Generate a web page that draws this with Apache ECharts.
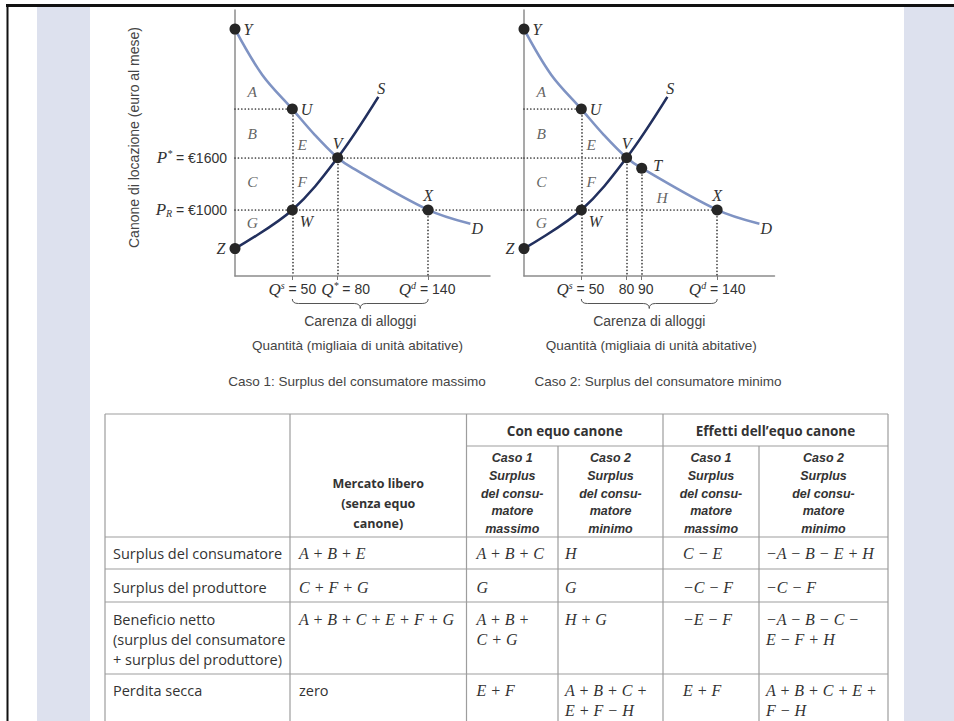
<!DOCTYPE html>
<html><head><meta charset="utf-8">
<script src="https://cdn.jsdelivr.net/npm/echarts@6/dist/echarts.min.js"></script>
<style>html,body{margin:0;padding:0;background:#fff}#c{width:954px;height:721px}</style>
</head><body><div id="c"></div>
<script>
// ---------------- data ----------------
const demandQ = [12, 30, 50, 65, 80, 90, 140, 168];
const demandP = [3080, 2556, 2160, 1861, 1600, 1480, 1000, 840];
const supplyQ = [12, 50, 80, 107];
const supplyP = [555, 1000, 1600, 2300];
const pointNames1 = ['Y', 'U', 'V', 'W', 'X', 'Z'];
const pointQ1 = [12, 50, 80, 50, 140, 12];
const pointP1 = [3080, 2160, 1600, 1000, 1000, 555];
const pointNames2 = ['Y', 'U', 'V', 'T', 'W', 'X', 'Z'];
const pointQ2 = [12, 50, 80, 90, 50, 140, 12];
const pointP2 = [3080, 2160, 1600, 1480, 1000, 1000, 555];
const areaNames1 = ['A', 'B', 'C', 'G', 'E', 'F'];
const areaQ1 = [23.5, 23.5, 23.5, 23.5, 56.6, 56.6];
const areaP1 = [2360, 1880, 1325, 855, 1758, 1325];
const areaNames2 = ['A', 'B', 'C', 'G', 'E', 'F', 'H'];
const areaQ2 = [23.5, 23.5, 23.5, 23.5, 56.6, 56.6, 103.5];
const areaP2 = [2360, 1880, 1325, 855, 1758, 1325, 1145];
const qTicks1 = [50, 80, 140];
const qTickSup1 = ['s', '*', 'd'];
const qTicks2 = [50, 80, 90, 140];
const qTickSup2 = ['s', '', '', 'd'];
const pTicks = [1000, 1600];
const pTickMark = ['R', '*'];
const priceU = 2160, priceStar = 1600, priceR = 1000, priceT = 1480;
const qS = 50, qStar = 80, qT = 90, qD = 140;
const shortageLabel = 'Carenza di alloggi';
const xName = 'Quantità (migliaia di unità abitative)';
const yName = 'Canone di locazione (euro al mese)';
const captions = ['Caso 1: Surplus del consumatore massimo', 'Caso 2: Surplus del consumatore minimo'];
// table
const groupHeaders = ['Con equo canone', 'Effetti dell’equo canone'];
const freeHeader = 'Mercato libero\n(senza equo\ncanone)';
const subHeaders = ['Caso 1\nSurplus\ndel consu-\nmatore\nmassimo', 'Caso 2\nSurplus\ndel consu-\nmatore\nminimo',
  'Caso 1\nSurplus\ndel consu-\nmatore\nmassimo', 'Caso 2\nSurplus\ndel consu-\nmatore\nminimo'];
const rowLabels = ['Surplus del consumatore', 'Surplus del produttore',
  'Beneficio netto\n(surplus del consumatore\n+ surplus del produttore)', 'Perdita secca'];
const cellRows = [
  ['A + B + E', 'A + B + C', 'H', 'C − E', '−A − B − E + H'],
  ['C + F + G', 'G', 'G', '−C − F', '−C − F'],
  ['A + B + C + E + F + G', 'A + B +\nC + G', 'H + G', '−E − F', '−A − B − C −\nE − F + H'],
  ['zero', 'E + F', 'A + B + C +\nE + F − H', 'E + F', 'A + B + C + E +\nF − H']
];

// ---------------- styles / layout ----------------
const Q_MIN = 12, P_MIN = 240, P_MAX = 3300;
const SERIF = '"Liberation Serif", "DejaVu Serif", serif';
const SANS = '"Liberation Sans", Arial, sans-serif';
const TSANS = '"Open Sans", "Noto Sans", sans-serif';
const INK = '#333';
const DOT = { color: '#3a3a3a', width: 1.7, type: [0.01, 3.4], cap: 'round' };

const richAxis = {
  i: { fontFamily: SERIF, fontStyle: 'italic', fontSize: 17, color: INK, lineHeight: 18 },
  sup: { fontFamily: SERIF, fontStyle: 'italic', fontSize: 10, color: INK, verticalAlign: 'top', lineHeight: 18 },
  sub: { fontFamily: SERIF, fontStyle: 'italic', fontSize: 10, color: INK, verticalAlign: 'bottom', lineHeight: 14 },
  t: { fontFamily: SANS, fontSize: 14, color: INK, lineHeight: 18 }
};
const richZ = {
  i: { fontFamily: SERIF, fontStyle: 'italic', fontSize: 17, fill: INK, lineHeight: 18 },
  sup: { fontFamily: SERIF, fontStyle: 'italic', fontSize: 10, fill: INK, verticalAlign: 'top', lineHeight: 18 },
  t: { fontFamily: SANS, fontSize: 14, fill: INK, lineHeight: 18 }
};
const tickNudge = [[0, 8, -1], [-1, 0, 4, 0]];

function qLabel(v, s) {
  if (!s) return '{t|' + v + '}';
  return '{i|Q}{sup|' + s + '}{t| = ' + v + '}';
}
function pFormatter(v) {
  const k = pTicks.indexOf(v);
  if (k < 0) return '';
  const m = pTickMark[k];
  return (m === '*' ? '{i|P}{sup|*}' : '{i|P}{sub|' + m + '}') + '{t| = €' + v + '}';
}

const ptLabel = {
  Y: { position: 'right', distance: 3 },
  U: { position: 'right', distance: 3 },
  V: { position: 'top', distance: 1 },
  W: { position: 'right', distance: 2, offset: [0, 12] },
  X: { position: 'top', distance: 1 },
  Z: { position: 'left', distance: 4 },
  T: { position: 'right', distance: 6, offset: [0, -3] }
};

const grids = [
  { left: 235, top: 10, width: 255, height: 266 },
  { left: 524, top: 10, width: 250.5, height: 266 }
];
const xMax = [181, 178];
const GUIDE_EXT = 204; // dotted price guides continue across the gap to chart 2

function xAxisFor(i, ticks) {
  return {
    type: 'value', gridIndex: i, min: Q_MIN, max: xMax[i],
    axisLine: { show: true, onZero: false, lineStyle: { color: '#8c8c8c', width: 1.5 } },
    axisTick: { show: true, customValues: ticks, length: 4, lineStyle: { color: '#777', width: 1 } },
    axisLabel: { show: false },
    splitLine: { show: false },
    name: xName, nameLocation: 'middle', nameGap: 62,
    nameTextStyle: { fontFamily: SANS, fontSize: 13.5, color: '#444', padding: i === 0 ? [0, 10, 0, 0] : [0, 0, 0, 4] }
  };
}
function yAxisFor(i) {
  const ax = {
    type: 'value', gridIndex: i, min: P_MIN, max: P_MAX,
    axisLine: { show: true, onZero: false, lineStyle: { color: '#8c8c8c', width: 1.5 } },
    axisTick: { show: false },
    splitLine: { show: false },
    axisLabel: { show: false }
  };
  if (i === 0) {
    ax.axisLabel = { show: true, customValues: pTicks, formatter: pFormatter, rich: richAxis, margin: 8 };
    ax.name = yName; ax.nameLocation = 'middle'; ax.nameGap = 94; ax.nameRotate = 90;
    ax.nameTextStyle = { fontFamily: SANS, fontSize: 14, color: '#444', padding: [0, 0, 0, 11] };
  }
  return ax;
}

function curve(i, qs, ps, color, name, off) {
  return {
    type: 'line', xAxisIndex: i, yAxisIndex: i, data: qs.map((q, k) => [q, ps[k]]),
    smooth: 0.35, symbol: 'none', z: 3, silent: true,
    lineStyle: { color: color, width: 2.6 },
    endLabel: { show: true, formatter: name, fontFamily: SERIF, fontStyle: 'italic', fontSize: 16, color: INK, offset: off, distance: 4 }
  };
}
function guides(i, segs) {
  return {
    type: 'lines', coordinateSystem: 'cartesian2d', xAxisIndex: i, yAxisIndex: i, clip: false, z: 2, silent: true,
    lineStyle: Object.assign({ opacity: 1 }, DOT),
    data: segs.map(s => ({ coords: s }))
  };
}
function points(i, names, qs, ps) {
  return {
    type: 'scatter', xAxisIndex: i, yAxisIndex: i, symbolSize: 11, z: 5, silent: true,
    itemStyle: { color: '#262626', opacity: 1 },
    data: names.map((n, k) => ({
      value: [qs[k], ps[k]], name: n,
      label: Object.assign({ show: true, formatter: n, fontFamily: SERIF, fontStyle: 'italic', fontSize: 16, color: INK }, ptLabel[n])
    }))
  };
}
function areaLabels(i, names, qs, ps) {
  return {
    type: 'scatter', xAxisIndex: i, yAxisIndex: i, symbolSize: 1, z: 4, silent: true,
    itemStyle: { color: 'rgba(0,0,0,0)' },
    data: names.map((n, k) => ({ value: [qs[k], ps[k]], name: n })),
    label: { show: true, position: 'inside', formatter: p => p.name, fontFamily: SERIF, fontStyle: 'italic', fontSize: 15.5, color: '#3a3a3a' }
  };
}
function tickLabels(i, ticks, sups) {
  return {
    type: 'custom', xAxisIndex: i, yAxisIndex: i, clip: false, silent: true, z: 4,
    data: ticks.map((t, k) => [t, k]),
    renderItem: function (params, api) {
      const v = api.value(0), k = api.value(1);
      const p = api.coord([v, P_MIN]);
      return { type: 'text', x: p[0] + tickNudge[i][k], y: p[1] + 13,
        style: { text: qLabel(v, sups[k]), rich: richZ, align: 'center', verticalAlign: 'middle' } };
    }
  };
}
function brace(i) {
  return {
    type: 'custom', xAxisIndex: i, yAxisIndex: i, clip: false, silent: true, z: 4,
    data: [[qS, qD]],
    renderItem: function (params, api) {
      const a = api.coord([api.value(0), P_MIN]);
      const b = api.coord([api.value(1), P_MIN]);
      const y0 = a[1] + 23, y1 = a[1] + 27.5, y2 = a[1] + 32.5;
      const x1 = a[0], x2 = b[0], xc = (x1 + x2) / 2;
      const d = 'M' + x1 + ',' + y0 + ' Q' + x1 + ',' + y1 + ' ' + (x1 + 6) + ',' + y1 +
        ' L' + (xc - 6) + ',' + y1 + ' Q' + xc + ',' + y1 + ' ' + xc + ',' + y2 +
        ' Q' + xc + ',' + y1 + ' ' + (xc + 6) + ',' + y1 + ' L' + (x2 - 6) + ',' + y1 +
        ' Q' + x2 + ',' + y1 + ' ' + x2 + ',' + y0;
      return {
        type: 'group', children: [
          { type: 'path', shape: { pathData: d }, style: { stroke: '#555', fill: null, lineWidth: 1 } },
          { type: 'text', style: { text: shortageLabel, x: xc, y: a[1] + 45, align: 'center', verticalAlign: 'middle', fontFamily: SANS, fontSize: 14, fill: '#444' } }
        ]
      };
    }
  };
}

const series = [
  guides(0, [
    [[Q_MIN, priceU], [qS, priceU]], [[qS, priceU], [qS, P_MIN]],
    [[Q_MIN, priceStar], [GUIDE_EXT, priceStar]], [[qStar, priceStar], [qStar, P_MIN]],
    [[Q_MIN, priceR], [GUIDE_EXT, priceR]], [[qD, priceR], [qD, P_MIN]]
  ]),
  curve(0, demandQ, demandP, '#7f93c3', 'D', [-3, 5]),
  curve(0, supplyQ, supplyP, '#22305e', 'S', [-5, -8]),
  points(0, pointNames1, pointQ1, pointP1),
  areaLabels(0, areaNames1, areaQ1, areaP1),
  tickLabels(0, qTicks1, qTickSup1),
  brace(0),
  guides(1, [
    [[Q_MIN, priceU], [qS, priceU]], [[qS, priceU], [qS, P_MIN]],
    [[Q_MIN, priceStar], [qStar, priceStar]], [[qStar, priceStar], [qStar, P_MIN]],
    [[qT, priceT], [qT, P_MIN]],
    [[Q_MIN, priceR], [qD, priceR]], [[qD, priceR], [qD, P_MIN]]
  ]),
  curve(1, demandQ, demandP, '#7f93c3', 'D', [-3, 5]),
  curve(1, supplyQ, supplyP, '#22305e', 'S', [-5, -8]),
  points(1, pointNames2, pointQ2, pointP2),
  areaLabels(1, areaNames2, areaQ2, areaP2),
  tickLabels(1, qTicks2, qTickSup2),
  brace(1)
];

// ---------------- page frame + table (graphic) ----------------
const G = [];
const BORDER = '#9d9d9d';
G.push({ type: 'rect', shape: { x: 37, y: 7, width: 53, height: 714 }, style: { fill: '#dde1ee' }, z: -10 });
G.push({ type: 'rect', shape: { x: 904, y: 7, width: 50, height: 714 }, style: { fill: '#dde1ee' }, z: -10 });
G.push({ type: 'line', shape: { x1: 6, y1: 5.5, x2: 954, y2: 5.5 }, style: { stroke: '#111', lineWidth: 3 }, z: -5 });
G.push({ type: 'line', shape: { x1: 7.5, y1: 4, x2: 7.5, y2: 721 }, style: { stroke: '#111', lineWidth: 2 }, z: -5 });
G.push({ type: 'text', style: { text: captions[0], x: 357, y: 381, align: 'center', verticalAlign: 'middle', fontFamily: SANS, fontSize: 13.5, fill: '#444' } });
G.push({ type: 'text', style: { text: captions[1], x: 658, y: 381, align: 'center', verticalAlign: 'middle', fontFamily: SANS, fontSize: 13.5, fill: '#444' } });

const colX = [105, 290, 466.5, 558, 663, 759, 888];
const rowY = [414, 446, 537, 569, 602, 674, 730];
function hl(x1, x2, y) { G.push({ type: 'line', shape: { x1: x1, y1: y, x2: x2, y2: y }, style: { stroke: BORDER, lineWidth: 1.2 } }); }
function vl(x, y1, y2) { G.push({ type: 'line', shape: { x1: x, y1: y1, x2: x, y2: y2 }, style: { stroke: BORDER, lineWidth: 1.2 } }); }
hl(colX[0], colX[6], rowY[0]);
hl(colX[2], colX[6], rowY[1]);
for (let r = 2; r <= 5; r++) hl(colX[0], colX[6], rowY[r]);
[0, 1, 2, 4, 6].forEach(c => vl(colX[c], rowY[0], rowY[6]));
[3, 5].forEach(c => vl(colX[c], rowY[1], rowY[6]));

function txt(text, x, y, font, align, va, lh) {
  G.push({ type: 'text', style: { text: text, x: x, y: y, align: align, verticalAlign: va, lineHeight: lh || 20, fill: INK,
    fontFamily: font.family, fontSize: font.size, fontWeight: font.weight || 'normal', fontStyle: font.style || 'normal' } });
}
const fHead = { family: TSANS, size: 13.5, weight: 'bold' };
const fHead2 = { family: TSANS, size: 12.5, weight: 'bold' };
const fSub = { family: SANS, size: 12.5, weight: 'bold', style: 'italic' };
const fRow = { family: TSANS, size: 14.5 };
const fMath = { family: SERIF, size: 16, style: 'italic' };

txt(groupHeaders[0], (colX[2] + colX[4]) / 2, 430.5, fHead, 'center', 'middle');
txt(groupHeaders[1], (colX[4] + colX[6]) / 2, 430.5, fHead, 'center', 'middle');
txt(freeHeader, (colX[1] + colX[2]) / 2, 503, fHead2, 'center', 'middle', 20);
subHeaders.forEach((s, k) => txt(s, (colX[2 + k] + colX[3 + k]) / 2, 493.5, fSub, 'center', 'middle', 17.7));

const rowFirst = [553, 587, 619, 690];
const cellIndent = [9, 10, 7, 20, 7];
rowLabels.forEach((s, r) => txt(s, 113, rowFirst[r] - 10, fRow, 'left', 'top', 20));
cellRows.forEach((row, r) => row.forEach((s, c) => {
  const f = s === 'zero' ? fRow : fMath;
  txt(s, colX[1 + c] + cellIndent[c], rowFirst[r] - 10, f, 'left', 'top', 20);
}));

const chart = echarts.init(document.getElementById('c'), null, { renderer: 'svg' });
chart.setOption({
  backgroundColor: '#ffffff',
  animation: false,
  grid: grids,
  xAxis: [xAxisFor(0, qTicks1), xAxisFor(1, qTicks2)],
  yAxis: [yAxisFor(0), yAxisFor(1)],
  series: series,
  graphic: { elements: G }
});
</script></body></html>
